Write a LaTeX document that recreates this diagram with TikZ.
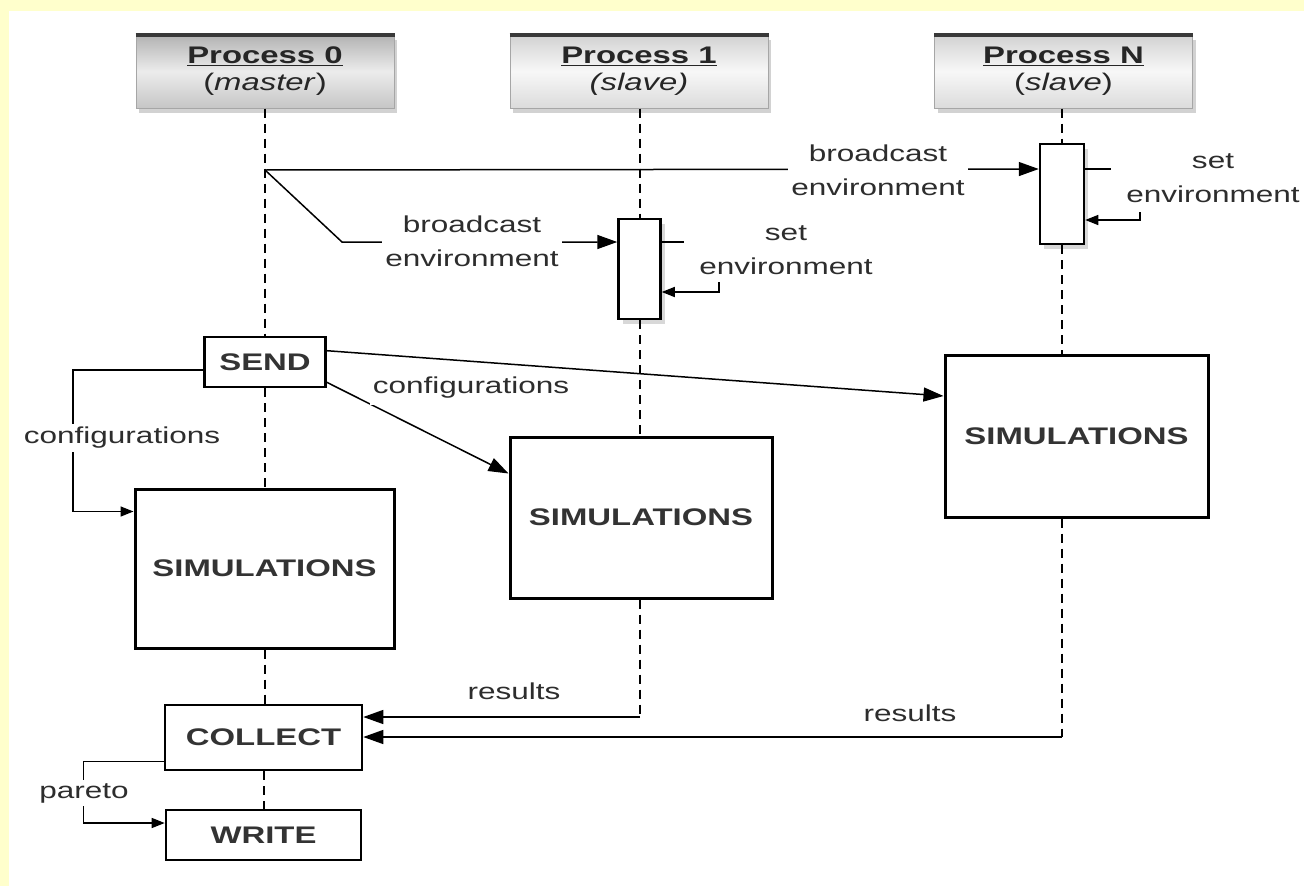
\documentclass[tikz,border=0pt]{standalone}
\usepackage{fontspec}
\setmainfont{Liberation Sans}
\usetikzlibrary{arrows.meta,shadows,calc}
\newcommand{\hs}[1]{\scalebox{1.37}[1]{#1}}
\definecolor{bgyellow}{RGB}{255,255,204}
\definecolor{txtgray}{RGB}{45,45,45}
\tikzset{
  lifeline/.style={line width=2pt, dash pattern=on 9pt off 6pt},
  box/.style={draw, line width=2.6pt, fill=white, inner sep=0pt, font=\fontsize{24}{28}\selectfont\bfseries, text=black!80},
  simbox/.style={box, line width=3pt},
  actbox/.style={draw, line width=2.5pt, fill=white, inner sep=0pt, minimum width=42pt, minimum height=100pt,
    drop shadow={shadow xshift=4pt, shadow yshift=-5pt, opacity=0.3}},
  head/.style={draw=gray!70, line width=1pt, inner sep=0pt, minimum width=258pt, minimum height=73pt,
    align=center, font=\fontsize{24}{27}\selectfont, text=black!85,
    drop shadow={shadow xshift=3pt, shadow yshift=-5pt, opacity=0.35}},
  headtop/.style={line width=4pt, gray!45!black},
  lbl/.style={font=\fontsize{23}{34}\selectfont, text=txtgray, align=center, fill=white, inner sep=3pt},
  arr/.style={line width=1.5pt, -{Triangle[length=20pt,width=14pt]}},
  sarr/.style={line width=1.5pt, -{Triangle[length=13pt,width=10pt]}},
  conn/.style={line width=1.5pt},
}
\begin{document}
\begin{tikzpicture}[x=1pt,y=-1pt]
\useasboundingbox (0,0) rectangle (1304,886);
\fill[white] (0,0) rectangle (1304,886);
\fill[bgyellow] (0,0) rectangle (1304,11);
\fill[bgyellow] (0,0) rectangle (9,886);

% headers
\node[head, top color=gray!60, bottom color=gray!45, middle color=gray!15] (p0) at (265,71.5)
  {\hs{\underline{\textbf{Process 0}}}\\\hs{(\textit{master})}};
\node[head, top color=gray!35, bottom color=gray!28, middle color=gray!6] (p1) at (639,71.5)
  {\hs{\underline{\textbf{Process 1}}}\\\hs{\textit{(slave)}}};
\node[head, top color=gray!35, bottom color=gray!28, middle color=gray!6] (pN) at (1063.5,71.5)
  {\hs{\underline{\textbf{Process N}}}\\\hs{(\textit{slave})}};
\draw[headtop] (p0.north west) -- (p0.north east);
\draw[headtop] (p1.north west) -- (p1.north east);
\draw[headtop] (pN.north west) -- (pN.north east);

% boxes
\node[actbox] (act1) at (639.5,269) {};
\node[actbox, minimum width=44pt] (actN) at (1062,194) {};
\node[box, minimum width=121pt, minimum height=50pt] (send) at (265,362) {\hs{SEND}};
\node[simbox, minimum width=259pt, minimum height=159pt] (sim0) at (264.5,568.5) {\hs{SIMULATIONS}};
\node[simbox, minimum width=262pt, minimum height=161pt] (sim1) at (641,517.5) {\hs{SIMULATIONS}};
\node[simbox, minimum width=263pt, minimum height=162pt] (simN) at (1076.5,436) {\hs{SIMULATIONS}};
\node[box, minimum width=197pt, minimum height=65pt] (collect) at (263.5,737.5) {\hs{COLLECT}};
\node[box, minimum width=195pt, minimum height=50pt] (write) at (263.5,835) {\hs{WRITE}};

\coordinate (b0) at (265,170);
\coordinate (bend1) at (342,242);
\coordinate (r1) at (640,717);
\coordinate (rN) at (1062,737);
\coordinate (c1) at (719,282);
\coordinate (cN) at (1140,212);

% lifelines
\draw[lifeline] (p0.south) -- (send.north);
\draw[lifeline] (send.south) -- (send.south |- sim0.north);
\draw[lifeline] (sim0.south -| send) -- (send |- collect.north);
\draw[lifeline] (collect.south) -- (write.north);
\draw[lifeline] (p1.south -| act1) -- (act1.north);
\draw[lifeline] (act1.south) -- (act1.south |- sim1.north);
\draw[lifeline] (sim1.south -| r1) -- (r1);
\draw[lifeline] (pN.south -| actN) -- (actN.north);
\draw[lifeline] (actN.south) -- (actN.south |- simN.north);
\draw[lifeline] (simN.south -| rN) -- (rN);

% connectors
\draw[arr] (b0) -- ($(actN.west)+(0,-25)$);
\draw[arr] (b0) -- (bend1) -- ($(act1.west)+(0,-27)$);
\draw[conn] ($(act1.east)+(0,-27)$) -- ++(22,0);
\draw[conn] ($(actN.east)+(0,-25)$) -- ++(26,0);
\draw[sarr] (c1) |- ($(act1.east)+(0,23)$);
\draw[sarr] (cN) |- ($(actN.east)+(0,26)$);

\draw[sarr] ($(send.west)+(0,8)$) -- ++(-130,0) |- ($(sim0.north west)+(0,24)$);
\draw[arr] ($(send.north east)+(0,15)$) -- ($(simN.west)+(0,-40)$);
\draw[arr] ($(send.south east)+(0,-6)$) -- ($(sim1.north west)+(0,38)$);

\draw[arr] (r1) -- (r1 -| collect.east);
\draw[arr] (rN) -- (rN -| collect.east);
\draw[sarr] ($(collect.south west)+(0,-10)$) -- ++(-80,0) |- ($(write.west)+(0,-12)$);

% labels
\node[lbl] (lb1) at (472,241) {\hs{broadcast}\\\hs{environment}};
\node[lbl] (lbN) at (878,170) {\hs{broadcast}\\\hs{environment}};
\node[lbl, fill=none] (lse1) at (786,250) {\hs{set}\\\hs{environment}};
\node[lbl, fill=none] (lseN) at (1213,178) {\hs{set}\\\hs{environment}};
\node[lbl] (lconf1) at (122,438) {\hs{configurations}};
\node[lbl, inner ysep=6pt] (lconf2) at (471,388) {\hs{configurations}};
\node[lbl] (lres1) at (514,691) {\hs{results}};
\node[lbl] (lresN) at (910,713) {\hs{results}};
\node[lbl] (lpar) at (84,793) {\hs{pareto}};
\end{tikzpicture}
\end{document}
